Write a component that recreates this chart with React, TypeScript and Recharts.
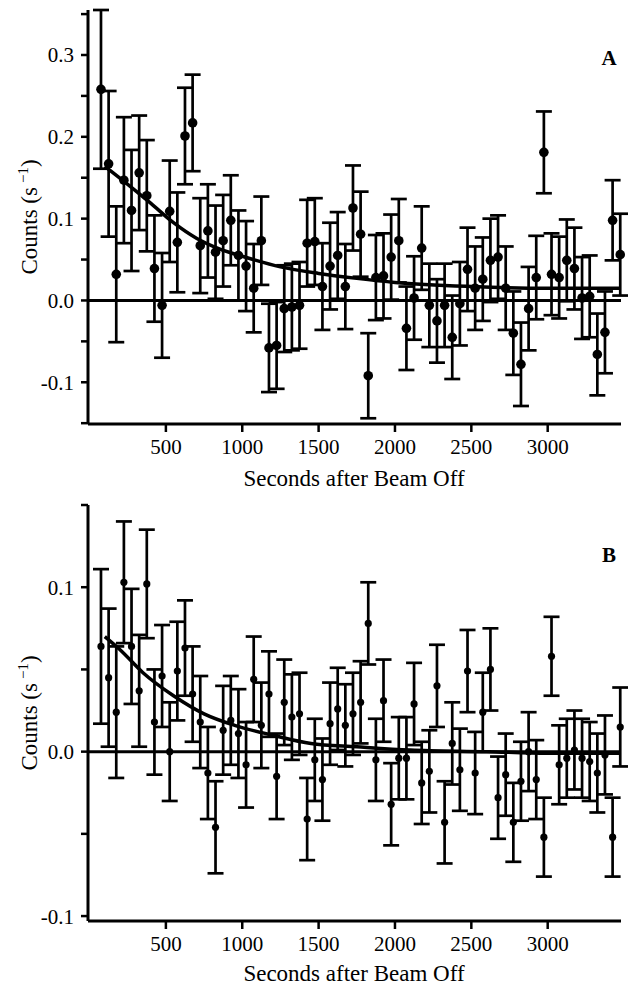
import React from 'react';
import { ComposedChart, Scatter, Line, XAxis, YAxis, ErrorBar, ReferenceLine } from 'recharts';

const times = [
  75, 125, 175, 225, 275, 325, 375, 425, 475, 525, 575, 625, 675, 725, 775, 825, 875, 925, 975, 1025,
  1075, 1125, 1175, 1225, 1275, 1325, 1375, 1425, 1475, 1525, 1575, 1625, 1675, 1725, 1775, 1825, 1875,
  1925, 1975, 2025, 2075, 2125, 2175, 2225, 2275, 2325, 2375, 2425, 2475, 2525, 2575, 2625, 2675, 2725,
  2775, 2825, 2875, 2925, 2975, 3025, 3075, 3125, 3175, 3225, 3275, 3325, 3375, 3425, 3475,
];

const countsA = [
  0.258, 0.167, 0.032, 0.147, 0.110, 0.156, 0.128, 0.039, -0.006, 0.109, 0.071, 0.201, 0.217, 0.067,
  0.085, 0.059, 0.073, 0.098, 0.055, 0.042, 0.015, 0.073, -0.058, -0.055, -0.010, -0.008, -0.006, 0.070,
  0.072, 0.017, 0.042, 0.055, 0.017, 0.113, 0.081, -0.092, 0.028, 0.030, 0.053, 0.073, -0.034, 0.003,
  0.064, -0.006, -0.025, -0.006, -0.045, -0.004, 0.038, 0.015, 0.026, 0.049, 0.053, 0.015, -0.040,
  -0.078, -0.010, 0.028, 0.181, 0.032, 0.028, 0.049, 0.039, 0.003, 0.005, -0.066, -0.039, 0.098, 0.056,
];
const errA = [
  0.097, 0.089, 0.083, 0.077, 0.074, 0.070, 0.068, 0.065, 0.064, 0.062, 0.061, 0.059, 0.059, 0.058,
  0.057, 0.057, 0.056, 0.055, 0.055, 0.055, 0.054, 0.054, 0.054, 0.053, 0.053, 0.053, 0.053, 0.053,
  0.053, 0.053, 0.053, 0.053, 0.052, 0.052, 0.052, 0.052, 0.052, 0.052, 0.052, 0.051, 0.051, 0.051,
  0.051, 0.051, 0.051, 0.051, 0.051, 0.051, 0.051, 0.051, 0.051, 0.051, 0.051, 0.051, 0.051, 0.051,
  0.051, 0.051, 0.050, 0.050, 0.050, 0.050, 0.050, 0.050, 0.050, 0.050, 0.050, 0.049, 0.050,
];
const fitTimesA = [100, 250, 400, 550, 700, 850, 1000, 1250, 1500, 1750, 2000, 2500, 3000, 3475];
const fitA = [0.164, 0.142, 0.119, 0.095, 0.076, 0.063, 0.054, 0.041, 0.033, 0.027, 0.022, 0.017, 0.015, 0.015];

const countsB = [
  0.064, 0.045, 0.024, 0.103, 0.064, 0.037, 0.102, 0.018, 0.046, 0.000, 0.049, 0.063, 0.035, 0.018,
  -0.013, -0.046, 0.013, 0.019, 0.011, -0.008, 0.044, 0.016, 0.035, -0.015, 0.030, 0.021, 0.023, -0.041,
  -0.005, -0.017, 0.017, 0.026, 0.016, 0.023, 0.030, 0.078, -0.005, 0.031, -0.032, -0.004, -0.004, 0.029,
  -0.019, -0.012, 0.040, -0.043, 0.005, -0.011, 0.049, -0.013, 0.024, 0.050, -0.028, -0.014, -0.043,
  -0.018, 0.000, -0.017, -0.052, 0.058, -0.008, -0.004, 0.001, -0.004, -0.006, -0.013, -0.002, -0.052, 0.015,
];
const errB = [
  0.047, 0.042, 0.040, 0.037, 0.035, 0.034, 0.033, 0.032, 0.031, 0.030, 0.030, 0.029, 0.029, 0.028,
  0.028, 0.028, 0.027, 0.027, 0.027, 0.026, 0.026, 0.026, 0.026, 0.026, 0.026, 0.026, 0.025, 0.025,
  0.025, 0.025, 0.025, 0.025, 0.025, 0.025, 0.025, 0.025, 0.025, 0.025, 0.025, 0.025, 0.025, 0.025,
  0.025, 0.025, 0.025, 0.025, 0.025, 0.025, 0.025, 0.025, 0.024, 0.025, 0.025, 0.025, 0.024, 0.024,
  0.024, 0.024, 0.024, 0.024, 0.024, 0.024, 0.024, 0.024, 0.024, 0.024, 0.024, 0.024, 0.024,
];
const fitTimesB = [100, 200, 350, 550, 750, 950, 1200, 1450, 1750, 2100, 2600, 3000, 3475];
const fitB = [0.070, 0.062, 0.048, 0.034, 0.023, 0.016, 0.010, 0.005, 0.003, 0.001, 0.000, -0.001, -0.001];

const xTicks = [500, 1000, 1500, 2000, 2500, 3000];
const yTicksA = [-0.15, -0.1, -0.05, 0, 0.05, 0.1, 0.15, 0.2, 0.25, 0.3, 0.35];
const yLabelsA = [-0.1, 0, 0.1, 0.2, 0.3];
const yTicksB = [-0.1, -0.05, 0, 0.05, 0.1, 0.15];
const yLabelsB = [-0.1, 0, 0.1];

const FONT = '"Liberation Serif", "Times New Roman", serif';

const Dot = (r: number) => (p: any) => <circle cx={p.cx} cy={p.cy} r={r} fill="#000" />;

interface PanelProps {
  counts: number[];
  errs: number[];
  fitX: number[];
  fitY: number[];
  yDomain: [number, number];
  yTicks: number[];
  yLabels: number[];
  dotR: number;
  xAxisHeight: number;
}

const Panel: React.FC<PanelProps> = ({ counts, errs, fitX, fitY, yDomain, yTicks, yLabels, dotR, xAxisHeight }) => {
  const points = times.map((x, i) => ({ x, y: counts[i], e: errs[i] }));
  const fit = fitX.map((x, i) => ({ x, y: fitY[i] }));
  const fmt = (v: number) => (yLabels.some((l) => Math.abs(l - v) < 1e-9) ? v.toFixed(1) : '');
  const tickStyle = { fill: '#000', fontSize: 21, fontFamily: FONT };
  return (
    <ComposedChart width={628} height={490} margin={{ top: 10, right: 7, bottom: 0, left: 28 }}>
      <XAxis
        type="number"
        dataKey="x"
        domain={[-10, 3480]}
        ticks={xTicks}
        interval={0}
        tick={tickStyle}
        tickSize={8}
        tickMargin={7}
        height={xAxisHeight}
        axisLine={{ stroke: '#000', strokeWidth: 3 }}
        tickLine={{ stroke: '#000', strokeWidth: 2.5 }}
      />
      <YAxis
        type="number"
        dataKey="y"
        domain={yDomain}
        ticks={yTicks}
        interval={0}
        tickFormatter={fmt}
        tick={tickStyle}
        tickSize={7}
        tickMargin={7}
        width={60}
        axisLine={{ stroke: '#000', strokeWidth: 3 }}
        tickLine={{ stroke: '#000', strokeWidth: 2.5 }}
      />
      <ReferenceLine y={0} stroke="#000" strokeWidth={3} />
      <Scatter data={points} dataKey="y" shape={Dot(dotR)} isAnimationActive={false}>
        <ErrorBar dataKey="e" direction="y" width={8} stroke="#000" strokeWidth={2.7} />
      </Scatter>
      <Line
        data={fit}
        dataKey="y"
        type="monotone"
        stroke="#000"
        strokeWidth={3.5}
        dot={false}
        activeDot={false}
        isAnimationActive={false}
      />
    </ComposedChart>
  );
};

const YTitle: React.FC<{ x: number; y: number }> = ({ x, y }) => (
  <text x={x} y={y} transform={`rotate(-90 ${x} ${y})`} textAnchor="middle" fontFamily={FONT} fontSize={23} fill="#000">
    Counts (s
    <tspan dx={4} dy={-9} fontSize={15}>−1</tspan>
    <tspan dy={9}>)</tspan>
  </text>
);

export default function App() {
  return (
    <div style={{ position: 'absolute', left: 0, top: 0, width: 628, height: 985, background: '#fff' }}>
      <div style={{ position: 'absolute', left: 0, top: 0 }}>
        <Panel
          counts={countsA}
          errs={errA}
          fitX={fitTimesA}
          fitY={fitA}
          yDomain={[-0.151, 0.35]}
          yTicks={yTicksA}
          yLabels={yLabelsA}
          dotR={4.8}
          xAxisHeight={66}
        />
      </div>
      <div style={{ position: 'absolute', left: 0, top: 495 }}>
        <Panel
          counts={countsB}
          errs={errB}
          fitX={fitTimesB}
          fitY={fitB}
          yDomain={[-0.103, 0.15]}
          yTicks={yTicksB}
          yLabels={yLabelsB}
          dotR={3.6}
          xAxisHeight={64}
        />
      </div>
      <svg width={628} height={985} style={{ position: 'absolute', left: 0, top: 0, pointerEvents: 'none' }}>
        <YTitle x={37} y={217} />
        <YTitle x={37} y={713} />
        <text x={354} y={486} textAnchor="middle" fontFamily={FONT} fontSize={23} fill="#000">
          Seconds after Beam Off
        </text>
        <text x={354} y={981} textAnchor="middle" fontFamily={FONT} fontSize={23} fill="#000">
          Seconds after Beam Off
        </text>
        <text x={609} y={65} textAnchor="middle" fontFamily={FONT} fontSize={21} fontWeight="bold" fill="#000">
          A
        </text>
        <text x={609} y={562} textAnchor="middle" fontFamily={FONT} fontSize={21} fontWeight="bold" fill="#000">
          B
        </text>
      </svg>
    </div>
  );
}
